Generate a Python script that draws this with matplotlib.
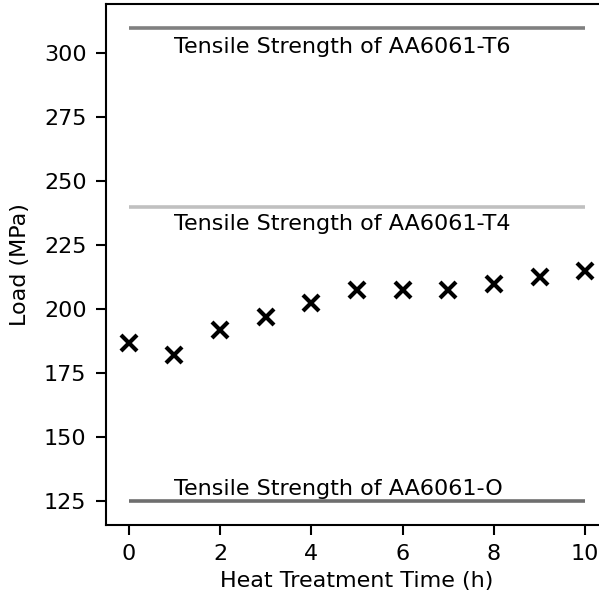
import numpy as np
import matplotlib
matplotlib.use('Agg')
import matplotlib.pyplot as plt

# ── Data ──────────────────────────────────────────────────────────────────────
time_h = np.arange(0, 11)
load_mpa = np.array([187, 182, 192, 197, 202.5, 207.5, 207.5, 207.5, 210, 212.5, 215])

ref_names = ['AA6061-T6', 'AA6061-T4', 'AA6061-O']
ref_strength = [310, 240, 125]
ref_label_y = [300, 231, 127.5]
ref_colors = ['#808080', '#c0c0c0', '#6e6e6e']

# ── Plot ──────────────────────────────────────────────────────────────────────
plt.rcParams.update({'font.family': 'DejaVu Sans', 'font.size': 16})
fig = plt.figure(figsize=(5.99, 6.02), dpi=100)
ax = fig.add_axes([106 / 599, 1 - 525 / 602, 502 / 599, 521 / 602])

for name, s, ty, c in zip(ref_names, ref_strength, ref_label_y, ref_colors):
    ax.plot([time_h[0], time_h[-1]], [s, s], color=c, lw=2.6, solid_capstyle='butt')
    ax.text(1, ty, f'Tensile Strength of {name}', fontsize=16, color='black')

ax.plot(time_h, load_mpa, ls='none', marker='x', color='black', ms=11, mew=3)

ax.set_xlim(-0.5, 10.5)
ax.set_ylim(115.75, 319.25)
ax.set_xticks([0, 2, 4, 6, 8, 10])
ax.set_yticks([125, 150, 175, 200, 225, 250, 275, 300])
ax.tick_params(length=7, width=1.5, labelsize=16, pad=7)
for sp in ax.spines.values():
    sp.set_linewidth(1.5)

ax.set_xlabel('Heat Treatment Time (h)', fontsize=16, labelpad=5)
ax.set_ylabel('Load (MPa)', fontsize=16, labelpad=10)

fig.savefig('out.png', dpi=100)
